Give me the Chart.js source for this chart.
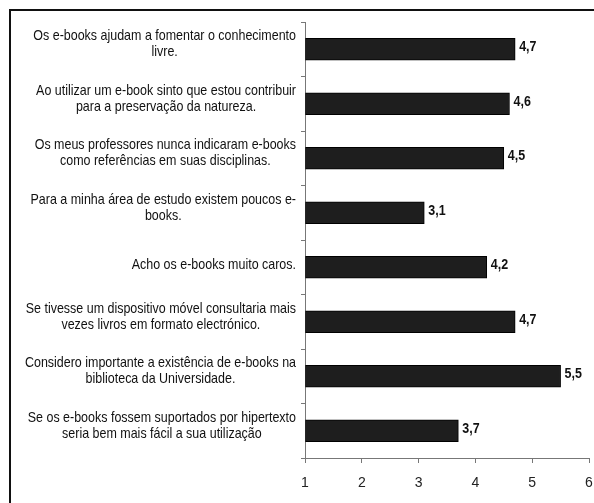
<!DOCTYPE html>
<html>
<head>
<meta charset="utf-8">
<script src="https://cdn.jsdelivr.net/npm/chart.js@4"></script>
<style>
  body { margin: 0; background: #fff; }
  #wrap { position: relative; width: 594px; height: 503px; }
  #frame {
    position: absolute; left: 9px; top: 9px; right: -4px; bottom: -4px;
    border-left: 2px solid #111; border-top: 2px solid #111;
  }
  canvas { position: absolute; left: 0; top: 0; }
</style>
</head>
<body>
<div id="wrap">
  <div id="frame"></div>
  <canvas id="chart" width="594" height="503"></canvas>
</div>
<script>
// statements (each split into the lines used in the original)
const statements = [
  ['Os e-books ajudam a fomentar o conhecimento', 'livre.'],
  ['Ao utilizar um e-book sinto que estou contribuir', 'para a preservação da natureza.'],
  ['Os meus professores nunca indicaram e-books', 'como referências em suas disciplinas.'],
  ['Para a minha área de estudo existem poucos e-', 'books.'],
  ['Acho os e-books muito caros.'],
  ['Se tivesse um dispositivo móvel consultaria mais', 'vezes livros em formato electrónico.'],
  ['Considero importante a existência de e-books na', 'biblioteca da Universidade.'],
  ['Se os e-books fossem suportados por hipertexto', 'seria bem mais fácil a sua utilização']
];
const means = [4.7, 4.6, 4.5, 3.1, 4.2, 4.7, 5.5, 3.7];
const scaleMin = 1;
const scaleMax = 6;

const FONT = "'Liberation Sans', Arial, sans-serif";
const SQUEEZE = 0.86; // the original uses a narrow face, so squeeze the text horizontally

// draws text squeezed horizontally around its anchor point
function narrowText(ctx, text, x, y) {
  ctx.save();
  ctx.translate(x, y);
  ctx.scale(SQUEEZE, 1);
  ctx.fillText(text, 0, 0);
  ctx.restore();
}

// statement labels: block right-aligned to the axis, lines centred inside it
const statementLabels = {
  id: 'statementLabels',
  afterDraw(chart) {
    const ctx = chart.ctx;
    const yScale = chart.scales.y;
    ctx.save();
    ctx.font = '14.5px ' + FONT;
    ctx.fillStyle = '#111';
    ctx.textAlign = 'center';
    ctx.textBaseline = 'middle';
    const lineH = 16;
    statements.forEach((lines, i) => {
      const w = Math.max(...lines.map((l) => ctx.measureText(l).width)) * SQUEEZE;
      const cx = 296 - w / 2;
      const cy = yScale.getPixelForTick(i) - (lines.length > 1 ? 5 : 2);
      const top = cy - (lines.length - 1) * lineH / 2;
      lines.forEach((l, k) => narrowText(ctx, l, cx, top + k * lineH));
    });
    ctx.restore();
  }
};

// value at the end of each bar, with a decimal comma
const valueLabels = {
  id: 'valueLabels',
  afterDatasetsDraw(chart) {
    const ctx = chart.ctx;
    const meta = chart.getDatasetMeta(0);
    ctx.save();
    ctx.font = 'bold 14.5px ' + FONT;
    ctx.fillStyle = '#111';
    ctx.textAlign = 'left';
    ctx.textBaseline = 'middle';
    meta.data.forEach((bar, i) => {
      narrowText(ctx, means[i].toFixed(1).replace('.', ','), bar.x + 4, bar.y - 2);
    });
    ctx.restore();
  }
};

new Chart(document.getElementById('chart'), {
  type: 'bar',
  data: {
    labels: statements,
    datasets: [{
      data: means,
      base: scaleMin,
      backgroundColor: '#1e1e1e',
      borderColor: '#000',
      borderWidth: 1,
      borderSkipped: false,
      barThickness: 22,
    }],
  },
  options: {
    indexAxis: 'y',
    responsive: false,
    animation: false,
    layout: { padding: { top: 22, right: 5, bottom: 0, left: 0 } },
    plugins: {
      legend: { display: false },
      tooltip: { enabled: false },
    },
    scales: {
      y: {
        afterFit: (s) => { s.width = 305; },
        ticks: { display: false },
        grid: { drawOnChartArea: false, drawTicks: true, tickLength: 4, color: '#777', offset: true },
        border: { color: '#777', width: 1 },
      },
      x: {
        min: scaleMin,
        max: scaleMax,
        afterFit: (s) => { s.height = 45; s.paddingLeft = 0; s.paddingRight = 0; },
        ticks: {
          stepSize: 1,
          color: '#222',
          padding: 12,
          font: { family: FONT, size: 14 },
        },
        grid: { drawOnChartArea: false, drawTicks: true, tickLength: 5, color: '#777' },
        border: { color: '#777', width: 1 },
      },
    },
  },
  plugins: [statementLabels, valueLabels],
});
</script>
</body>
</html>
